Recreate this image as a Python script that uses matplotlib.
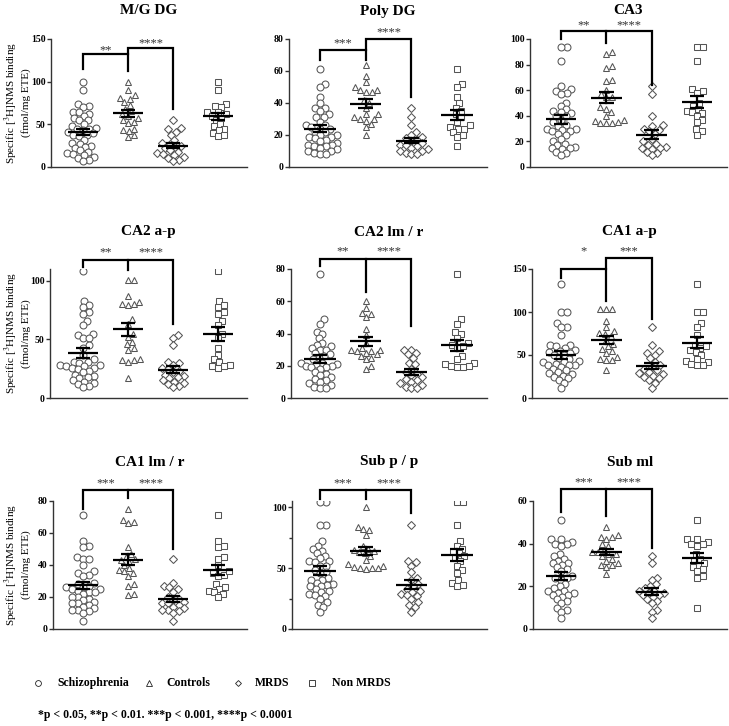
import numpy as np
import matplotlib
matplotlib.use("Agg")
import matplotlib.pyplot as plt
from matplotlib.lines import Line2D

plt.rcParams['font.family'] = ['Liberation Serif', 'DejaVu Serif']
plt.rcParams['mathtext.fontset'] = 'stix'

GROUPS = ["Schizophrenia", "Controls", "MRDS", "Non MRDS"]
TITLES = ["M/G DG", "Poly DG", "CA3", "CA2 a-p", "CA2 lm / r", "CA1 a-p",
          "CA1 lm / r", "Sub p / p", "Sub ml"]

# ---- data (fmol/mg ETE) ----
MGDG_SCHZ = [100, 90, 74, 71, 70, 65, 64, 62, 60, 58, 55, 55, 50, 48, 46, 45, 44, 43, 41, 40,
             38, 38, 36, 32, 28, 27, 25, 24, 22, 20, 18, 16, 15, 14, 12, 10, 8, 7]
MGDG_CTRL = [100, 90, 84, 81, 80, 76, 73, 68, 66, 62, 60, 58, 55, 53, 52, 45, 43, 42, 37, 35]
MGDG_MRDS = [55, 46, 44, 41, 38, 32, 27, 28, 25, 24, 22, 20, 18, 16, 15, 14, 12, 10, 8, 7]
MGDG_NON = [100, 90, 74, 71, 70, 65, 64, 62, 60, 58, 55, 50, 48, 45, 43, 40, 38, 36]

POLY_SCHZ = [61, 52, 50, 44, 40, 37, 37, 35, 33, 31, 31, 28, 26, 26, 25, 24, 24, 22, 22, 20,
             20, 19, 19, 18, 17, 16, 15, 14, 14, 13, 13, 12, 11, 10, 10, 9, 8, 8]
POLY_CTRL = [64, 57, 53, 50, 48, 47, 47, 48, 42, 40, 37, 33, 33, 31, 30, 30, 29, 27, 25, 20]
POLY_MRDS = [37, 31, 26, 22, 20, 19, 18, 17, 16, 15, 14, 14, 13, 12, 11, 10, 10, 9, 8, 8]
POLY_NON = [61, 52, 50, 44, 40, 37, 35, 33, 31, 28, 26, 25, 24, 24, 22, 20, 19, 13]

CA3_SCHZ = [94, 94, 83, 63, 61, 59, 58, 57, 50, 48, 45, 44, 43, 42, 40, 40, 37, 35, 33, 32,
            30, 30, 29, 28, 28, 26, 25, 22, 20, 18, 17, 16, 15, 15, 14, 12, 11, 9]
CA3_CTRL = [90, 88, 79, 77, 68, 67, 60, 57, 55, 55, 47, 45, 43, 40, 37, 36, 35, 34, 34, 34]
CA3_MRDS = [63, 57, 40, 33, 32, 30, 29, 28, 26, 22, 20, 18, 17, 16, 15, 15, 14, 12, 11, 9]
CA3_NON = [94, 94, 83, 61, 59, 58, 50, 48, 45, 44, 43, 42, 40, 37, 35, 30, 28, 25]

CA2AP_SCHZ = [108, 83, 79, 78, 73, 72, 66, 62, 55, 54, 51, 51, 45, 43, 37, 33, 31, 31, 30, 28,
              28, 27, 27, 26, 26, 25, 23, 22, 20, 19, 18, 17, 15, 14, 13, 12, 10, 9]
CA2AP_CTRL = [101, 101, 87, 82, 80, 79, 80, 67, 63, 55, 52, 48, 46, 43, 41, 33, 32, 32, 31, 17]
CA2AP_MRDS = [54, 51, 45, 31, 30, 28, 26, 25, 23, 22, 20, 19, 18, 17, 15, 14, 13, 12, 10, 9]
CA2AP_NON = [108, 83, 79, 78, 73, 72, 66, 62, 55, 51, 43, 37, 33, 31, 28, 27, 27, 26]

CA2LM_SCHZ = [77, 49, 46, 41, 40, 37, 34, 33, 32, 31, 30, 30, 28, 27, 26, 25, 24, 22, 22, 21,
              21, 20, 20, 19, 19, 18, 16, 15, 14, 13, 12, 11, 10, 9, 8, 7, 6, 6]
CA2LM_CTRL = [60, 56, 53, 52, 50, 43, 39, 34, 31, 30, 30, 29, 29, 28, 27, 26, 25, 24, 20, 18]
CA2LM_MRDS = [30, 30, 28, 27, 25, 22, 21, 18, 16, 15, 14, 13, 12, 11, 10, 9, 8, 7, 6, 6]
CA2LM_NON = [77, 49, 46, 41, 40, 37, 34, 33, 32, 31, 26, 24, 22, 21, 20, 20, 19, 19]

CA1AP_SCHZ = [132, 100, 100, 87, 83, 82, 73, 62, 62, 60, 58, 56, 55, 53, 52, 50, 50, 46, 45, 43,
              42, 42, 40, 38, 38, 38, 36, 34, 32, 30, 29, 28, 26, 25, 23, 21, 18, 12]
CA1AP_CTRL = [104, 103, 103, 90, 82, 78, 76, 75, 72, 67, 63, 60, 57, 55, 52, 48, 45, 44, 44, 33]
CA1AP_MRDS = [83, 62, 55, 52, 50, 46, 42, 38, 36, 34, 32, 30, 29, 28, 26, 25, 23, 21, 18, 12]
CA1AP_NON = [132, 100, 100, 87, 82, 73, 62, 60, 58, 56, 53, 50, 45, 43, 42, 40, 38, 38]

CA1LM_SCHZ = [71, 55, 52, 51, 45, 44, 44, 40, 36, 35, 34, 33, 29, 28, 27, 26, 26, 25, 25, 24,
              23, 23, 22, 20, 20, 19, 18, 17, 16, 16, 15, 14, 13, 12, 12, 11, 10, 5]
CA1LM_CTRL = [75, 68, 67, 66, 51, 47, 45, 44, 43, 42, 40, 38, 37, 36, 35, 33, 28, 27, 22, 21]
CA1LM_MRDS = [44, 29, 27, 26, 25, 23, 20, 19, 18, 17, 16, 16, 15, 14, 13, 12, 12, 11, 10, 5]
CA1LM_NON = [71, 55, 52, 51, 45, 44, 40, 35, 34, 36, 33, 28, 26, 25, 24, 23, 22, 20]

SUBPP_SCHZ = [104, 104, 85, 85, 72, 68, 66, 64, 62, 60, 58, 56, 56, 55, 52, 52, 48, 47, 46, 42,
              40, 40, 38, 37, 36, 35, 35, 33, 31, 30, 29, 28, 27, 25, 22, 20, 18, 14]
SUBPP_CTRL = [100, 84, 82, 81, 77, 68, 66, 65, 64, 63, 62, 60, 57, 53, 52, 51, 50, 50, 50, 49]
SUBPP_MRDS = [85, 56, 55, 52, 47, 42, 40, 37, 35, 33, 31, 30, 29, 28, 27, 25, 22, 20, 18, 14]
SUBPP_NON = [104, 104, 85, 72, 68, 66, 64, 62, 60, 58, 56, 52, 48, 46, 40, 38, 36, 35]

SUBML_SCHZ = [51, 42, 42, 41, 40, 40, 39, 35, 34, 33, 32, 31, 31, 30, 29, 28, 27, 25, 24, 24,
              23, 21, 20, 19, 18, 18, 17, 17, 16, 16, 15, 14, 13, 12, 10, 9, 8, 5]
SUBML_CTRL = [48, 44, 43, 43, 42, 40, 39, 37, 36, 36, 35, 35, 34, 33, 32, 31, 30, 30, 29, 26]
SUBML_MRDS = [34, 31, 24, 23, 21, 20, 19, 18, 18, 17, 17, 16, 16, 15, 14, 13, 12, 9, 8, 5]
SUBML_NON = [51, 42, 42, 41, 40, 40, 39, 35, 33, 32, 31, 30, 29, 28, 27, 25, 24, 10]

PANELS = [
    [MGDG_SCHZ, MGDG_CTRL, MGDG_MRDS, MGDG_NON],
    [POLY_SCHZ, POLY_CTRL, POLY_MRDS, POLY_NON],
    [CA3_SCHZ, CA3_CTRL, CA3_MRDS, CA3_NON],
    [CA2AP_SCHZ, CA2AP_CTRL, CA2AP_MRDS, CA2AP_NON],
    [CA2LM_SCHZ, CA2LM_CTRL, CA2LM_MRDS, CA2LM_NON],
    [CA1AP_SCHZ, CA1AP_CTRL, CA1AP_MRDS, CA1AP_NON],
    [CA1LM_SCHZ, CA1LM_CTRL, CA1LM_MRDS, CA1LM_NON],
    [SUBPP_SCHZ, SUBPP_CTRL, SUBPP_MRDS, SUBPP_NON],
    [SUBML_SCHZ, SUBML_CTRL, SUBML_MRDS, SUBML_NON],
]

YMAX = [150, 80, 100, 110, 80, 150, 80, 105, 60]
YTICKS = [[0, 50, 100, 150], [0, 20, 40, 60, 80], [0, 20, 40, 60, 80, 100], [0, 50, 100],
          [0, 20, 40, 60, 80], [0, 50, 100, 150], [0, 20, 40, 60, 80], [0, 50, 100],
          [0, 20, 40, 60]]
YMINOR = [[], [], [], [], [], [], [], [25, 75], []]

# significance annotations (Schz vs Controls, Controls vs MRDS)
STARS_1 = ["**", "***", "**", "**", "**", "*", "***", "***", "***"]
STARS_2 = ["****", "****", "****", "****", "****", "***", "****", "****", "****"]
BR_H1 = [132, 73, 106, 118, 86, 150, 87, 114, 65.5]
BR_H2 = [140, 80, 106, 118, 86, 163, 87, 114, 65.5]
BR_L0 = [115, 67, 100, 112, 82, 140, 75, 107, 55]
BR_L1 = [113, 67, 97, 109, 66, 113, 82, 107, 53]
BR_L2 = [68, 44, 64, 63, 44.5, 91.5, 50, 95, 38]
STAR_Y1 = [137, 77.5, 111, 124, 90.7, 170.6, 91.3, 119.5, 68.6]
STAR_Y2 = [145, 84, 111, 124, 90.7, 170.6, 91.3, 119.5, 68.6]

# ---- layout ----
W, H = 729, 726
fig = plt.figure(figsize=(W / 100, H / 100), dpi=100)

ROW_TOP = [39, 269, 501]
ROW_BOT = [167, 398, 629]
COL_LEFT = [[51, 289, 530], [50, 291, 532], [53, 292, 533]]
COL_RIGHT = [247, 487, 727]
G0 = [83, 320, 561]
G3 = [218, 457, 697]
TITLE_Y = [11, 232, 462]

MARKERS = ['o', '^', 'D', 's']
MSIZE = [5.0, 5.0, 3.8, 4.6]
EDGE = '#555555'


def swarm(vals, ypx, d):
    vals = np.asarray(vals, float)
    order = np.argsort(vals)
    placed = []
    offs = np.zeros(len(vals))
    for i in order:
        y = vals[i] * ypx
        cands = [0.0]
        for (px, py) in placed:
            dy = y - py
            if abs(dy) < d:
                dx = np.sqrt(d * d - dy * dy)
                cands += [px + dx, px - dx]
        cands.sort(key=abs)
        for c in cands:
            if all((c - px) ** 2 + (y - py) ** 2 >= d * d - 1e-6 for px, py in placed):
                offs[i] = c
                placed.append((c, y))
                break
    return offs


for k, data in enumerate(PANELS):
    r, c = divmod(k, 3)
    L, R = COL_LEFT[r][c], COL_RIGHT[c]
    T, B = ROW_TOP[r], ROW_BOT[r]
    ax = fig.add_axes([L / W, 1 - B / H, (R - L) / W, (B - T) / H])
    upx = 3.0 / (G3[c] - G0[c])
    ax.set_xlim((L - G0[c]) * upx, (R - G0[c]) * upx)
    ax.set_ylim(0, YMAX[k])
    ypx = (B - T) / YMAX[k]

    for g, vals in enumerate(data):
        offs = swarm(vals, ypx, 6.0) * upx
        ax.plot(g + offs, vals, linestyle='none', marker=MARKERS[g], ms=MSIZE[g],
                mfc='white', mec=EDGE, mew=0.75, zorder=2)
        v = np.asarray(vals, float)
        m = v.mean()
        sem = v.std(ddof=1) / np.sqrt(len(v))
        ax.plot([g - 0.34, g + 0.34], [m, m], color='black', lw=1.6, zorder=3,
                solid_capstyle='butt')
        ax.plot([g, g], [m - sem, m + sem], color='black', lw=1.6, zorder=3)
        for yy in (m - sem, m + sem):
            ax.plot([g - 0.16, g + 0.16], [yy, yy], color='black', lw=1.6, zorder=3,
                    solid_capstyle='butt')

    # brackets
    ax.plot([0, 0, 1], [BR_L0[k], BR_H1[k], BR_H1[k]], color='black', lw=1.6,
            clip_on=False, solid_joinstyle='miter')
    ax.plot([1, 1, 2, 2], [BR_L1[k], BR_H2[k], BR_H2[k], BR_L2[k]], color='black', lw=1.6,
            clip_on=False, solid_joinstyle='miter')
    ax.text(0.5, STAR_Y1[k], STARS_1[k], ha='center', va='center', fontsize=9,
            color='#333333', clip_on=False)
    ax.text(1.5, STAR_Y2[k], STARS_2[k], ha='center', va='center', fontsize=9,
            color='#333333', clip_on=False)

    ax.set_yticks(YTICKS[k])
    if YMINOR[k]:
        ax.set_yticks(YMINOR[k], minor=True)
    ax.set_xticks([])
    for s in ('top', 'right'):
        ax.spines[s].set_visible(False)
    for s in ('left', 'bottom'):
        ax.spines[s].set_linewidth(1.0)
        ax.spines[s].set_color('#333333')
    ax.tick_params(axis='y', which='major', length=3, width=1, pad=1, labelsize=7,
                   color='#333333')
    ax.tick_params(axis='y', which='minor', length=2.5, width=1, color='#333333')
    for lab in ax.get_yticklabels():
        lab.set_fontweight('bold')

    if c == 0:
        fig.text(17 / W, 1 - (T + B) / 2 / H,
                 "Specific [$^{3}$H]NMS binding\n(fmol/mg ETE)", rotation=90,
                 ha='center', va='center', fontsize=8, linespacing=1.15,
                 multialignment='center')
    fig.text((L + R) / 2 / W, 1 - TITLE_Y[r] / H, TITLES[k], ha='center', va='center',
             fontsize=11, fontweight='bold')

# legend
LEG_Y = 1 - 683 / H
MK_X = [38, 149, 238, 312]
TX_X = [57, 166, 255, 332]
for g in range(4):
    fig.add_artist(Line2D([MK_X[g] / W], [LEG_Y], transform=fig.transFigure,
                          marker=MARKERS[g], ms=MSIZE[g] - 0.8, mfc='white', mec='#222222',
                          mew=0.6, linestyle='none'))
    fig.text(TX_X[g] / W, LEG_Y, GROUPS[g], ha='left', va='center', fontsize=8.5,
             fontweight='bold')

fig.text(38 / W, 1 - 715 / H, "*p < 0.05, **p < 0.01. ***p < 0.001, ****p < 0.0001",
         ha='left', va='center', fontsize=8.5, fontweight='bold')

fig.savefig("out.png", dpi=100)
